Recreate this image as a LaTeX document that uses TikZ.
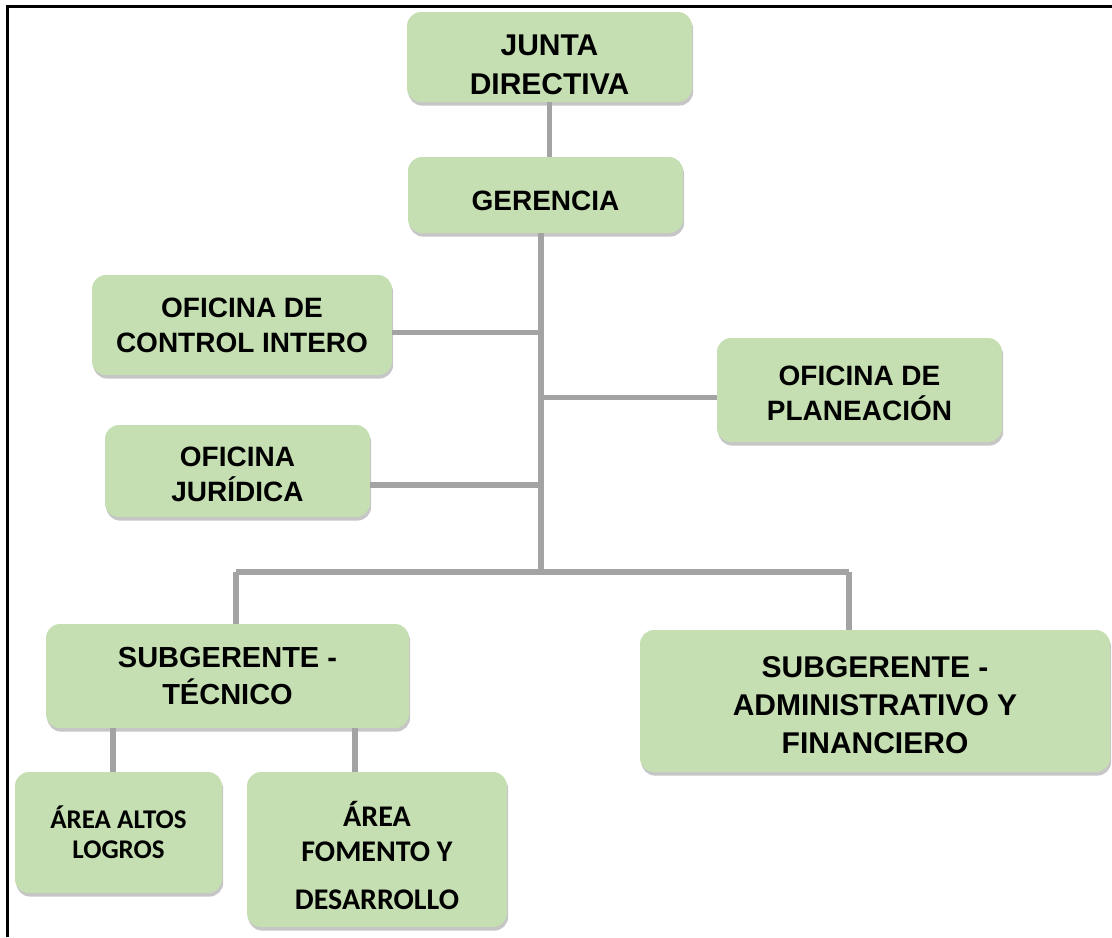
\documentclass[tikz,border=0pt]{standalone}
\usepackage{fontspec}
\setmainfont{Liberation Sans}
\newfontfamily\calibri{Carlito}
\usetikzlibrary{shadows}

\definecolor{verdecaja}{RGB}{197,223,178}
\definecolor{gristrazo}{RGB}{163,163,163}

% baja el texto de una caja
\newcommand{\bajar}[1]{\rule{0pt}{#1}}

\tikzset{
  cargo/.style={rectangle, rounded corners=7pt, fill=verdecaja, inner sep=0pt, align=center,
    font=\bfseries\fontsize{14}{17.5}\selectfont,
    drop shadow={shadow xshift=0.6pt, shadow yshift=-1.8pt, opacity=0.45, fill=gray}},
  area/.style={cargo, font=\calibri\bfseries\fontsize{13.5}{15}\selectfont},
  enlace/.style={draw=gristrazo, line width=2.6pt},
}

\begin{document}
\begin{tikzpicture}[x=0.5pt, y=-0.5pt]
            \useasboundingbox ( 0, 0 ) rectangle ( 1112, 937 );

            % cajas
            \node [cargo, minimum width=142.5pt, minimum height=45pt,
                   font=\bfseries\fontsize{15}{19.5}\selectfont] (junta) at ( 549.5, 57 ) {\bajar{18pt}JUNTA\\DIRECTIVA};
            \node [cargo, minimum width=137.5pt, minimum height=38pt] (gerencia) at ( 545.5, 195 ) {\bajar{16pt}GERENCIA};
            \node [cargo, minimum width=150pt, minimum height=50pt] (control) at ( 242, 325 ) {OFICINA DE\\CONTROL INTERO};
            \node [cargo, minimum width=132.5pt, minimum height=46pt] (juridica) at ( 237.5, 471 ) {\bajar{13pt}OFICINA\\JURÍDICA};
            \node [cargo, minimum width=142.5pt, minimum height=52pt] (planeacion) at ( 859.5, 390 ) {\bajar{13.5pt}OFICINA DE\\PLANEACIÓN};
            \node [cargo, minimum width=181.5pt, minimum height=52pt,
                   font=\bfseries\fontsize{14.5}{18.5}\selectfont] (subtecnico) at ( 227.5, 676 ) {SUBGERENTE -\\TÉCNICO};
            \node [cargo, minimum width=235pt, minimum height=71pt,
                   font=\bfseries\fontsize{15}{19}\selectfont] (subadmin) at ( 875, 701 ) {\bajar{14.5pt}SUBGERENTE -\\ADMINISTRATIVO Y\\FINANCIERO};
            \node [area, minimum width=103.5pt, minimum height=60.5pt] (altos) at ( 118.5, 832.5 ) {ÁREA ALTOS\\LOGROS};
            \node [area, minimum width=130pt, minimum height=77.5pt,
                   font=\calibri\bfseries\fontsize{15}{17.5}\selectfont] (fomento) at ( 377, 849.5 ) {\bajar{19pt}ÁREA\\FOMENTO Y\\[6.5pt]DESARROLLO};

            % puntos de unión
            \coordinate (bus) at ( 541, 572 );
            \coordinate (busizq) at ( 236, 572 );
            \coordinate (busder) at ( 849, 572 );
            \coordinate (ramaizq) at ( 113, 728 );
            \coordinate (ramader) at ( 355, 728 );

            % líneas
            \path [enlace] (junta.south) -- (junta.south |- gerencia.north);
            \path [enlace] (gerencia.south -| bus) -- (bus);
            \path [enlace] (control.-3) -- (control.-3 -| bus);
            \path [enlace] (juridica.-6) -- (juridica.-6 -| bus);
            \path [enlace] (planeacion.183) -- (planeacion.183 -| bus);
            \path [enlace] (busizq) -- (busder);
            \path [enlace] (busizq) -- (busizq |- subtecnico.north);
            \path [enlace] (busder) -- (busder |- subadmin.north);
            \path [enlace] (ramaizq) -- (ramaizq |- altos.north);
            \path [enlace] (ramader) -- (ramader |- fomento.north);

            % marco
            \draw [line width=1.5pt] ( 7, 937 ) -- ( 7, 6.5 ) -- ( 1112, 6.5 );
        \end{tikzpicture}
\end{document}
